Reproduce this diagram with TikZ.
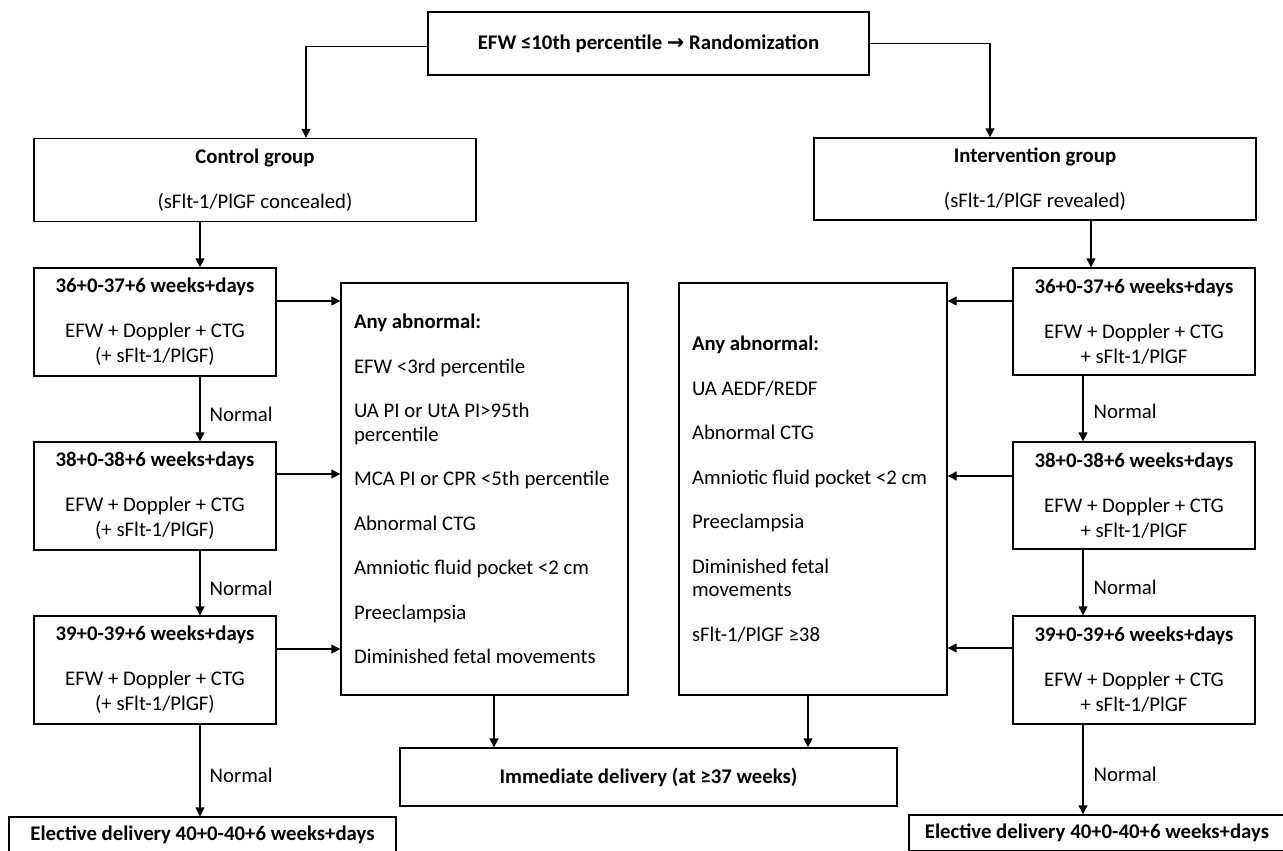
\documentclass[tikz,border=0pt]{standalone}
\usepackage{fontspec}
\setmainfont{Carlito}
\newfontfamily\symfont{DejaVu Sans}
\usetikzlibrary{arrows.meta}
\begin{document}
\begin{tikzpicture}[x=1pt,y=-1pt,
  font=\fontsize{20.8}{25}\selectfont,
  box/.style={draw, line width=1.4pt, align=center, inner sep=0pt},
  ablist/.style={draw, line width=1.4pt, align=flush left, inner xsep=13pt, inner ysep=0pt,
     font=\fontsize{20.8}{23.5}\selectfont},
  arr/.style={line width=1.4pt, -{Triangle[width=9pt,length=9pt]}},
  lbl/.style={inner sep=0pt, anchor=west}
]
\useasboundingbox (0,0) rectangle (1283,851);

% top
\node[box, minimum width=441pt, minimum height=63pt] (top) at (648.5,43.5)
  {\bfseries EFW ≤10th percentile {\symfont\bfseries →} Randomization};

% groups
\node[box, minimum width=442pt, minimum height=83pt] (ctrl) at (255,180)
  {{\bfseries Control group}\\[20pt](sFlt-1/PlGF concealed)};
\node[box, minimum width=442pt, minimum height=82pt] (intv) at (1035,179)
  {{\bfseries Intervention group}\\[20pt](sFlt-1/PlGF revealed)};

% control visits
\node[box, minimum width=242pt, minimum height=108pt] (c36) at (155,322)
  {{\bfseries 36+0-37+6 weeks+days}\\[20pt]EFW + Doppler + CTG\\(+ sFlt-1/PlGF)};
\node[box, minimum width=242pt, minimum height=108pt] (c38) at (155,496)
  {{\bfseries 38+0-38+6 weeks+days}\\[20pt]EFW + Doppler + CTG\\(+ sFlt-1/PlGF)};
\node[box, minimum width=242pt, minimum height=108pt] (c39) at (155,670)
  {{\bfseries 39+0-39+6 weeks+days}\\[20pt]EFW + Doppler + CTG\\(+ sFlt-1/PlGF)};

% intervention visits
\node[box, minimum width=242pt, minimum height=107pt] (r36) at (1134,321.5)
  {{\bfseries 36+0-37+6 weeks+days}\\[20pt]EFW + Doppler + CTG\\+ sFlt-1/PlGF};
\node[box, minimum width=242pt, minimum height=107pt] (r38) at (1134,495.5)
  {{\bfseries 38+0-38+6 weeks+days}\\[20pt]EFW + Doppler + CTG\\+ sFlt-1/PlGF};
\node[box, minimum width=242pt, minimum height=108pt] (r39) at (1134,670)
  {{\bfseries 39+0-39+6 weeks+days}\\[20pt]EFW + Doppler + CTG\\+ sFlt-1/PlGF};

% abnormal lists
\node[ablist, text width=261pt, minimum height=412pt] (abL) at (484.5,489)
  {{\bfseries Any abnormal:}\\[21pt]
   EFW <3rd percentile\\[21pt]
   UA PI or UtA PI>95th\\percentile\\[21pt]
   MCA PI or CPR <5th percentile\\[21pt]
   Abnormal CTG\\[21pt]
   Amniotic fluid pocket <2 cm\\[21pt]
   Preeclampsia\\[21pt]
   Diminished fetal movements};
\node[ablist, text width=242pt, minimum height=412pt] (abR) at (813,489)
  {{\bfseries Any abnormal:}\\[21pt]
   UA AEDF/REDF\\[21pt]
   Abnormal CTG\\[21pt]
   Amniotic fluid pocket <2 cm\\[21pt]
   Preeclampsia\\[21pt]
   Diminished fetal\\movements\\[21pt]
   sFlt-1/PlGF ≥38};

% outcomes
\node[box, minimum width=497pt, minimum height=58pt] (imm) at (648.5,777)
  {\bfseries Immediate delivery (at ≥37 weeks)};
\node[box, minimum width=387pt, minimum height=36pt] (eL) at (202.5,835)
  {\bfseries Elective delivery 40+0-40+6 weeks+days};
\node[box, minimum width=376pt, minimum height=36pt] (eR) at (1097,833)
  {\bfseries Elective delivery 40+0-40+6 weeks+days};

% top connectors
\coordinate (ctrlIn) at ([xshift=51pt]ctrl.north);
\coordinate (intvIn) at ([xshift=-45pt]intv.north);
\draw[arr] ([yshift=-3pt]top.west) -| (ctrlIn);
\draw[arr] (top.east) -| (intvIn);

% control column
\coordinate (ctrlOut) at ([xshift=-55pt]ctrl.south);
\draw[arr] (ctrlOut) -- (ctrlOut |- c36.north);
\coordinate (l36) at ([xshift=45pt]c36.south);
\coordinate (l38) at ([xshift=45pt]c38.south);
\coordinate (l39) at ([xshift=45pt]c39.south);
\draw[arr] (l36) -- (l36 |- c38.north)
  node[lbl, pos=0.58, xshift=9pt] {Normal};
\draw[arr] (l38) -- (l38 |- c39.north)
  node[lbl, pos=0.58, xshift=9pt] {Normal};
\draw[arr] (l39) -- (l39 |- eL.north)
  node[lbl, pos=0.55, xshift=9pt] {Normal};

% intervention column
\coordinate (intvOut) at ([xshift=56pt]intv.south);
\draw[arr] (intvOut) -- (intvOut |- r36.north);
\coordinate (q36) at ([xshift=-51pt]r36.south);
\coordinate (q38) at ([xshift=-51pt]r38.south);
\coordinate (q39) at ([xshift=-51pt]r39.south);
\draw[arr] (q36) -- (q36 |- r38.north)
  node[lbl, pos=0.55, xshift=10pt] {Normal};
\draw[arr] (q38) -- (q38 |- r39.north)
  node[lbl, pos=0.58, xshift=10pt] {Normal};
\draw[arr] (q39) -- (q39 |- eR.north)
  node[lbl, pos=0.55, xshift=10pt] {Normal};

% horizontal arrows to abnormal boxes
\coordinate (h36) at ([yshift=21pt]c36.east);
\coordinate (h38) at ([yshift=22pt]c38.east);
\coordinate (h39) at ([yshift=21pt]c39.east);
\draw[arr] (h36) -- (h36 -| abL.west);
\draw[arr] (h38) -- (h38 -| abL.west);
\draw[arr] (h39) -- (h39 -| abL.west);
\coordinate (k36) at ([yshift=20.5pt]r36.west);
\coordinate (k38) at ([yshift=19.5pt]r38.west);
\coordinate (k39) at ([yshift=22pt]r39.west);
\draw[arr] (k36) -- (k36 -| abR.east);
\draw[arr] (k38) -- (k38 -| abR.east);
\draw[arr] (k39) -- (k39 -| abR.east);

% abnormal to immediate
\coordinate (aL) at ([xshift=9.5pt]abL.south);
\coordinate (aR) at ([xshift=-5pt]abR.south);
\draw[arr] (aL) -- (aL |- imm.north);
\draw[arr] (aR) -- (aR |- imm.north);
\end{tikzpicture}
\end{document}
